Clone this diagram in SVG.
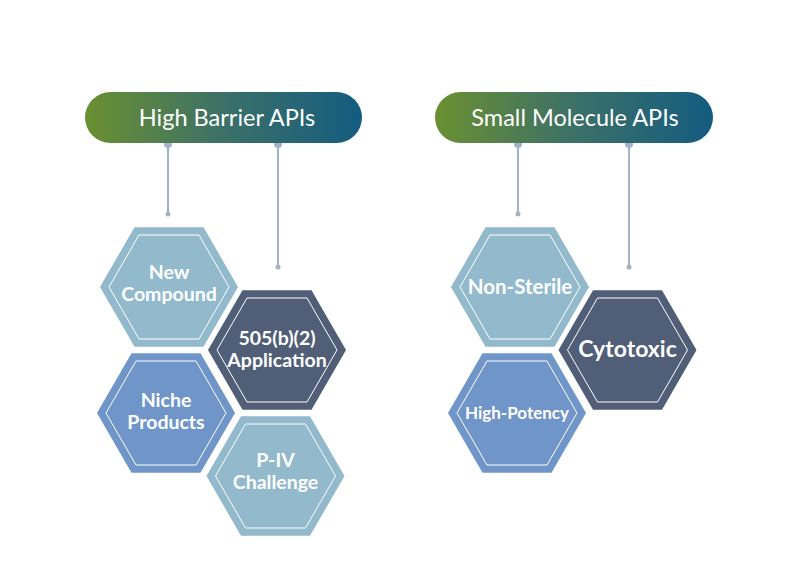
<svg xmlns="http://www.w3.org/2000/svg" width="800" height="569" viewBox="0 0 800 569">
<style>
.title{font-family:Lato,"Open Sans",sans-serif;font-size:23.5px;fill:#ffffff;text-anchor:middle}
.lbl{font-family:Lato,"Open Sans",sans-serif;font-weight:700;font-size:19.5px;fill:#ffffff;text-anchor:middle}
.big{font-size:23px}
.line{stroke:#a3b2c6;stroke-width:2;fill:none}
.dot{fill:#a3b2c6}
.inner{fill:none;stroke:#ffffff;stroke-width:1}
.light{fill:#92b9cc}
.mid{fill:#7096c9}
.dark{fill:#515e77}
</style>
<defs>
<linearGradient id="pill" x1="0" y1="0" x2="1" y2="0">
<stop offset="0" stop-color="#6a9030"/>
<stop offset="0.5" stop-color="#3c7068"/>
<stop offset="1" stop-color="#135c80"/>
</linearGradient>
<polygon id="hex" points="-69,0 -34.5,-59.75 34.5,-59.75 69,0 34.5,59.75 -34.5,59.75"/>
<polygon id="hexIn" points="-60,0 -30,-52 30,-52 60,0 30,52 -30,52"/>
</defs>
<rect width="800" height="569" fill="#ffffff"/>

<g id="connectors">
<line class="line" x1="168" y1="144" x2="168" y2="214"/>
<line class="line" x1="278" y1="144" x2="278" y2="267"/>
<line class="line" x1="518" y1="144" x2="518" y2="214"/>
<line class="line" x1="629" y1="144" x2="629" y2="267"/>
<circle class="dot" cx="168" cy="144" r="4"/>
<circle class="dot" cx="278" cy="144" r="4"/>
<circle class="dot" cx="168" cy="214" r="2.5"/>
<circle class="dot" cx="278" cy="267" r="2.5"/>
<circle class="dot" cx="518" cy="144" r="4"/>
<circle class="dot" cx="629" cy="144" r="4"/>
<circle class="dot" cx="518" cy="214" r="2.5"/>
<circle class="dot" cx="629" cy="267" r="2.5"/>
</g>

<g id="high-barrier-apis">
<rect x="85" y="92" width="277" height="51" rx="25.5" fill="url(#pill)"/>
<text class="title" x="227" y="126">High Barrier APIs</text>
</g>
<g id="small-molecule-apis">
<rect x="435" y="92" width="278" height="51" rx="25.5" fill="url(#pill)"/>
<text class="title" x="575" y="126">Small Molecule APIs</text>
</g>

<g id="new-compound" transform="translate(169,287)">
<use href="#hex" class="light"/><use href="#hexIn" class="inner"/>
<text class="lbl" x="0" y="-8">New</text>
<text class="lbl" x="0" y="14">Compound</text>
</g>
<g id="app-505b2" transform="translate(277,350)">
<use href="#hex" class="dark"/><use href="#hexIn" class="inner"/>
<text class="lbl" x="0" y="-5">505(b)(2)</text>
<text class="lbl" x="0" y="17">Application</text>
</g>
<g id="niche-products" transform="translate(166,413)">
<use href="#hex" class="mid"/><use href="#hexIn" class="inner"/>
<text class="lbl" x="0" y="-6">Niche</text>
<text class="lbl" x="0" y="16">Products</text>
</g>
<g id="p-iv-challenge" transform="translate(275.5,476)">
<use href="#hex" class="light"/><use href="#hexIn" class="inner"/>
<text class="lbl" x="0" y="-9">P-IV</text>
<text class="lbl" x="0" y="13">Challenge</text>
</g>

<g id="non-sterile" transform="translate(520,287)">
<use href="#hex" class="light"/><use href="#hexIn" class="inner"/>
<text class="lbl" x="0" y="7" style="font-size:20.5px">Non-Sterile</text>
</g>
<g id="cytotoxic" transform="translate(627.5,350)">
<use href="#hex" class="dark"/><use href="#hexIn" class="inner"/>
<text class="lbl big" x="0" y="7">Cytotoxic</text>
</g>
<g id="high-potency" transform="translate(517,413)">
<use href="#hex" class="mid"/><use href="#hexIn" class="inner"/>
<text class="lbl" x="0" y="6" style="font-size:17px">High-Potency</text>
</g>
</svg>
